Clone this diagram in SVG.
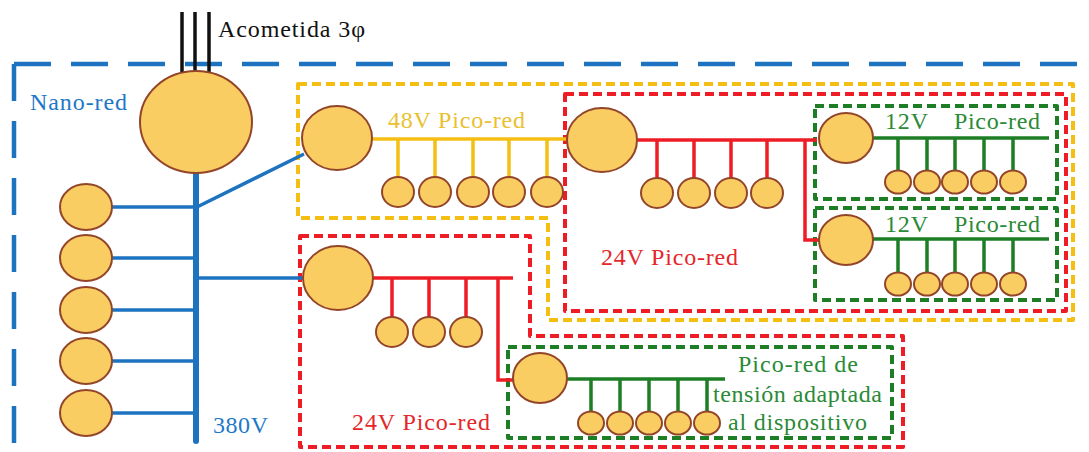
<svg xmlns="http://www.w3.org/2000/svg" width="1089" height="452" viewBox="0 0 1089 452">
<style>
.n{fill:#F9CD62;stroke:#93452A;stroke-width:2}
.blue{stroke:#1E73C0;fill:none}
.yl{stroke:#F5BE12;fill:none}
.rd{stroke:#EE1C24;fill:none}
.gr{stroke:#1E7E26;fill:none}
.box{stroke-width:4;stroke-dasharray:9 5;stroke-linejoin:round}
.w3{stroke-width:3.5}
text{font-family:'Liberation Serif','Times New Roman',serif;font-size:24px}
</style>
<rect width="1089" height="452" fill="#fff"/>
<g id="boxes">
<path class="blue" d="M14,64 L14,470 M14,64 L1100,64" stroke-width="4.5" stroke-dasharray="37 20"/>
<path class="yl box" d="M298,84 L1073,84 L1073,320 L548,320 L548,218 L298,218 Z"/>
<rect class="rd box" x="565" y="94" width="501" height="217"/>
<rect class="gr box" x="815" y="106" width="242" height="93"/>
<rect class="gr box" x="815" y="208" width="242" height="92"/>
<path class="rd box" d="M300,236 L530,236 L530,336 L903,336 L903,447 L300,447 Z"/>
<rect class="gr box" x="508" y="347" width="384" height="91"/>
</g>
<g id="connectors">
<g stroke="#111" stroke-width="3.5">
<line x1="182" y1="12" x2="182" y2="76"/>
<line x1="195" y1="12" x2="195" y2="76"/>
<line x1="209" y1="12" x2="209" y2="76"/>
</g>
<g class="blue">
<line x1="196" y1="170" x2="196" y2="441" stroke-width="6" stroke-linecap="round"/>
<g class="w3">
<line x1="110" y1="207" x2="196" y2="207"/>
<line x1="110" y1="258" x2="196" y2="258"/>
<line x1="110" y1="310" x2="196" y2="310"/>
<line x1="110" y1="361" x2="196" y2="361"/>
<line x1="110" y1="413" x2="196" y2="413"/>
<line x1="197" y1="207" x2="304" y2="154"/>
<line x1="196" y1="278" x2="304" y2="278"/>
</g>
</g>
<g class="yl w3">
<line x1="370" y1="139" x2="568" y2="139"/>
<line x1="398" y1="139" x2="398" y2="178"/>
<line x1="435" y1="139" x2="435" y2="178"/>
<line x1="473" y1="139" x2="473" y2="178"/>
<line x1="509" y1="139" x2="509" y2="178"/>
<line x1="547" y1="139" x2="547" y2="178"/>
</g>
<g class="rd w3">
<line x1="635" y1="140" x2="817" y2="140"/>
<line x1="657" y1="140" x2="657" y2="180"/>
<line x1="694" y1="140" x2="694" y2="180"/>
<line x1="731" y1="140" x2="731" y2="180"/>
<line x1="767" y1="140" x2="767" y2="180"/>
<polyline points="805,140 805,240 820,240"/>
<line x1="370" y1="278" x2="513" y2="278"/>
<line x1="392" y1="278" x2="392" y2="318"/>
<line x1="429" y1="278" x2="429" y2="318"/>
<line x1="466" y1="278" x2="466" y2="318"/>
<polyline points="498,278 498,380 515,380"/>
</g>
<g class="gr w3">
<line x1="872" y1="138" x2="1049" y2="138"/>
<line x1="898" y1="138" x2="898" y2="172"/>
<line x1="927" y1="138" x2="927" y2="172"/>
<line x1="955" y1="138" x2="955" y2="172"/>
<line x1="984" y1="138" x2="984" y2="172"/>
<line x1="1013" y1="138" x2="1013" y2="172"/>
<line x1="872" y1="239" x2="1049" y2="239"/>
<line x1="898" y1="239" x2="898" y2="274"/>
<line x1="927" y1="239" x2="927" y2="274"/>
<line x1="955" y1="239" x2="955" y2="274"/>
<line x1="984" y1="239" x2="984" y2="274"/>
<line x1="1013" y1="239" x2="1013" y2="274"/>
<line x1="565" y1="379" x2="725" y2="379"/>
<line x1="591" y1="379" x2="591" y2="413"/>
<line x1="620" y1="379" x2="620" y2="413"/>
<line x1="649" y1="379" x2="649" y2="413"/>
<line x1="678" y1="379" x2="678" y2="413"/>
<line x1="707" y1="379" x2="707" y2="413"/>
</g>
</g>
<g id="main"><ellipse class="n" cx="196" cy="122" rx="56" ry="51"/></g>
<g id="load380">
<ellipse class="n" cx="86" cy="207" rx="26" ry="23"/>
<ellipse class="n" cx="86" cy="258" rx="26" ry="23"/>
<ellipse class="n" cx="86" cy="310" rx="26" ry="23"/>
<ellipse class="n" cx="86" cy="361" rx="26" ry="23"/>
<ellipse class="n" cx="86" cy="413" rx="26" ry="23"/>
</g>
<g id="conv48"><ellipse class="n" cx="337" cy="138" rx="35" ry="32"/></g>
<g id="load48">
<ellipse class="n" cx="398" cy="192" rx="16" ry="15"/>
<ellipse class="n" cx="435" cy="192" rx="16" ry="15"/>
<ellipse class="n" cx="473" cy="192" rx="16" ry="15"/>
<ellipse class="n" cx="509" cy="192" rx="16" ry="15"/>
<ellipse class="n" cx="547" cy="192" rx="16" ry="15"/>
</g>
<g id="conv24a"><ellipse class="n" cx="602" cy="140" rx="35" ry="32"/></g>
<g id="load24a">
<ellipse class="n" cx="657" cy="193" rx="16" ry="15"/>
<ellipse class="n" cx="694" cy="193" rx="16" ry="15"/>
<ellipse class="n" cx="731" cy="193" rx="16" ry="15"/>
<ellipse class="n" cx="767" cy="193" rx="16" ry="15"/>
</g>
<g id="conv12a"><ellipse class="n" cx="846" cy="138" rx="27" ry="25"/></g>
<g id="load12a">
<ellipse class="n" cx="898" cy="182" rx="13" ry="11.5"/>
<ellipse class="n" cx="927" cy="182" rx="13" ry="11.5"/>
<ellipse class="n" cx="955" cy="182" rx="13" ry="11.5"/>
<ellipse class="n" cx="984" cy="182" rx="13" ry="11.5"/>
<ellipse class="n" cx="1013" cy="182" rx="13" ry="11.5"/>
</g>
<g id="conv12b"><ellipse class="n" cx="846" cy="240" rx="27" ry="25"/></g>
<g id="load12b">
<ellipse class="n" cx="898" cy="284" rx="13" ry="11.5"/>
<ellipse class="n" cx="927" cy="284" rx="13" ry="11.5"/>
<ellipse class="n" cx="955" cy="284" rx="13" ry="11.5"/>
<ellipse class="n" cx="984" cy="284" rx="13" ry="11.5"/>
<ellipse class="n" cx="1013" cy="284" rx="13" ry="11.5"/>
</g>
<g id="conv24b"><ellipse class="n" cx="338" cy="278" rx="35" ry="32"/></g>
<g id="load24b">
<ellipse class="n" cx="392" cy="332" rx="16" ry="15"/>
<ellipse class="n" cx="429" cy="332" rx="16" ry="15"/>
<ellipse class="n" cx="466" cy="332" rx="16" ry="15"/>
</g>
<g id="convdev"><ellipse class="n" cx="540" cy="378" rx="27" ry="25"/></g>
<g id="loaddev">
<ellipse class="n" cx="591" cy="423" rx="13" ry="11.5"/>
<ellipse class="n" cx="620" cy="423" rx="13" ry="11.5"/>
<ellipse class="n" cx="649" cy="423" rx="13" ry="11.5"/>
<ellipse class="n" cx="678" cy="423" rx="13" ry="11.5"/>
<ellipse class="n" cx="707" cy="423" rx="13" ry="11.5"/>
</g>
<g id="labels">
<text x="218" y="37" fill="#111" textLength="147" lengthAdjust="spacing">Acometida 3φ</text>
<text x="30" y="110" fill="#1E78C8" textLength="97" lengthAdjust="spacing">Nano-red</text>
<text x="213" y="433" fill="#1E78C8" textLength="55" lengthAdjust="spacing">380V</text>
<text x="388" y="128" fill="#EAC030" textLength="137" lengthAdjust="spacing">48V Pico-red</text>
<text x="601" y="265" fill="#E5262A" textLength="137" lengthAdjust="spacing">24V Pico-red</text>
<text x="352" y="430" fill="#E5262A" textLength="138" lengthAdjust="spacing">24V Pico-red</text>
<text x="885" y="129" fill="#2A8A36" textLength="43" lengthAdjust="spacing">12V</text>
<text x="954" y="129" fill="#2A8A36" textLength="86" lengthAdjust="spacing">Pico-red</text>
<text x="885" y="232" fill="#2A8A36" textLength="43" lengthAdjust="spacing">12V</text>
<text x="954" y="232" fill="#2A8A36" textLength="86" lengthAdjust="spacing">Pico-red</text>
<text x="738" y="372" fill="#2A8A36" textLength="120" lengthAdjust="spacing">Pico-red de</text>
<text x="713" y="402" fill="#2A8A36" textLength="169" lengthAdjust="spacing">tensión adaptada</text>
<text x="728" y="430" fill="#2A8A36" textLength="139" lengthAdjust="spacing">al dispositivo</text>
</g>
</svg>
